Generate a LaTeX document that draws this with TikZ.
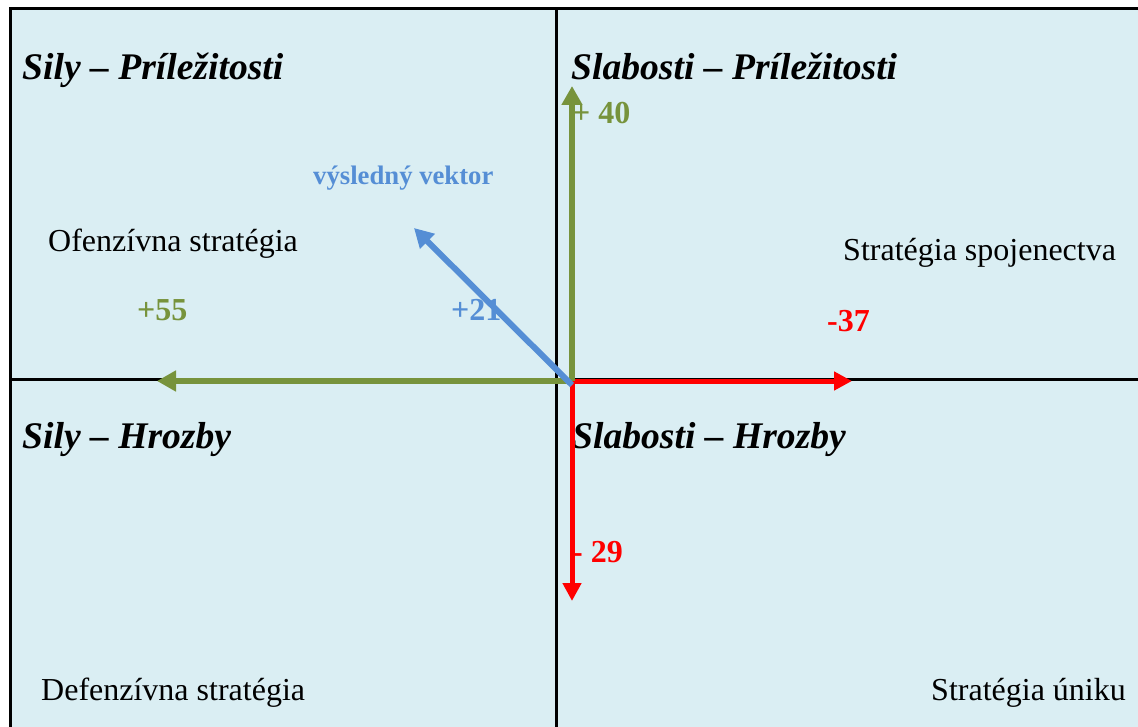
\documentclass[tikz,border=0pt]{standalone}
\usepackage{fontspec}
\setmainfont{Liberation Serif}
\usetikzlibrary{arrows.meta}
\definecolor{bgblue}{HTML}{DAEEF3}
\definecolor{olivegr}{HTML}{77933C}
\definecolor{vecblue}{HTML}{558ED5}
\definecolor{redc}{HTML}{FF0000}
\tikzset{
  head/.style={font=\fontsize{37.6}{40}\selectfont\bfseries\itshape, anchor=base west, inner sep=0pt},
  strat/.style={font=\fontsize{32}{34}\selectfont, anchor=base west, inner sep=0pt},
  val/.style={font=\fontsize{32}{34}\selectfont\bfseries, anchor=base west, inner sep=0pt},
  vlab/.style={font=\fontsize{26.7}{28}\selectfont\bfseries, anchor=base west, inner sep=0pt},
  axis/.style={line width=3pt, black},
  garrow/.style={line width=6pt, olivegr, -{Triangle[length=19pt,width=20pt]}},
  rarrow/.style={line width=5pt, redc, -{Triangle[length=18pt,width=18pt]}},
  barrow/.style={line width=6pt, vecblue, -{Triangle[length=19pt,width=20pt]}}
}
\begin{document}
\begin{tikzpicture}[x=1pt,y=-1pt]
\useasboundingbox (0,0) rectangle (1138,727);
\fill[bgblue] (10,9) rectangle (1138,727);
% frame and axes
\coordinate (tl) at (10,9);
\coordinate (tr) at (1138,9);
\coordinate (bl) at (10,727);
\coordinate (vt) at (556,9);
\coordinate (vb) at (556,727);
\coordinate (hl) at (10,379);
\coordinate (hr) at (1138,379);
\draw[axis] (bl) -- (tl) -- (tr);
\draw[axis] (vt) -- (vb);
\draw[axis] (hl) -- (hr);
% quadrant headings
\node[head] (q1) at (22,80) {Sily – Príležitosti};
\node[head] (q2) at (571,80) {Slabosti – Príležitosti};
\node[head] (q3) at (22,448) {Sily – Hrozby};
\node[head] (q4) at (572,448) {Slabosti – Hrozby};
% strategies
\node[strat] (s1) at (48,252) {Ofenzívna stratégia};
\node[strat] (s2) at (843,261) {Stratégia spojenectva};
\node[strat] (s3) at (41,700) {Defenzívna stratégia};
\node[strat] (s4) at (931,700) {Stratégia úniku};
% values
\node[vlab, text=vecblue] (vv) at (313,185) {výsledný vektor};
\node[val, text=olivegr] (v55) at (137,321) {+55};
\node[val, text=vecblue] (v21) at (451,321) {+21};
\node[val, text=redc] (v37) at (827,332) {-37};
\node[val, text=olivegr] (v40) at (572,124) {+ 40};
\node[val, text=redc] (v29) at (572,562) {- 29};
% vectors
\coordinate (o) at (572,381);
\coordinate (gup) at (572,86);
\coordinate (gleft) at (157,381);
\coordinate (rright) at (852,381);
\coordinate (rdown) at (572,601);
\coordinate (btip) at (414,228);
\draw[garrow] (o) -- (gleft);
\draw[rarrow] (o) -- (rright);
\draw[rarrow] (o) -- (rdown);
\draw[garrow] (o) -- (gup);
\draw[barrow] (572,385) -- (btip);
\end{tikzpicture}
\end{document}
